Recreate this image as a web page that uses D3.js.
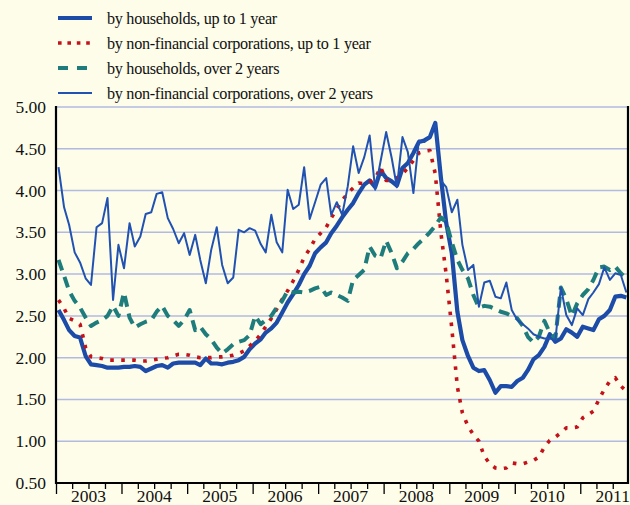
<!DOCTYPE html>
<html>
<head>
<meta charset="utf-8">
<script src="https://cdn.jsdelivr.net/npm/d3@7/dist/d3.min.js"></script>
<style>
  html, body { margin: 0; padding: 0; background: #fdfdea; }
  svg { display: block; }
  text { font-family: "Liberation Serif", "Times New Roman", serif; fill: #111; }
</style>
</head>
<body>
<svg id="chart" width="630" height="505"></svg>
<script>
// Monthly interest rates on new deposits, Jan 2003 – Sep 2011 (%)
const startYear = 2003;
const yearLabels = ["2003", "2004", "2005", "2006", "2007", "2008", "2009", "2010", "2011"];
const yTicks = [0.5, 1.0, 1.5, 2.0, 2.5, 3.0, 3.5, 4.0, 4.5, 5.0];

const householdsShort = [
  2.57, 2.45, 2.33, 2.26, 2.24, 2.02, 1.92, 1.91, 1.90, 1.88, 1.88, 1.88,
  1.89, 1.89, 1.90, 1.89, 1.84, 1.87, 1.90, 1.91, 1.88, 1.93, 1.94, 1.94,
  1.94, 1.94, 1.91, 1.99, 1.93, 1.93, 1.92, 1.94, 1.95, 1.97, 2.01, 2.10,
  2.17, 2.22, 2.30, 2.35, 2.42, 2.54, 2.66, 2.76, 2.87, 3.00, 3.10, 3.25,
  3.32, 3.38, 3.49, 3.58, 3.68, 3.77, 3.85, 3.97, 4.07, 4.12, 4.04, 4.24,
  4.15, 4.11, 4.06, 4.27, 4.33, 4.45, 4.58, 4.60, 4.64, 4.81, 4.16, 3.61,
  3.25, 2.55, 2.21, 2.02, 1.88, 1.84, 1.85, 1.73, 1.58, 1.66, 1.66, 1.65,
  1.72, 1.76, 1.85, 1.98, 2.03, 2.13, 2.28, 2.19, 2.23, 2.34, 2.30, 2.25,
  2.37, 2.35, 2.33, 2.46, 2.50, 2.57, 2.73, 2.74, 2.72
];

const corporationsShort = [
  2.69, 2.59, 2.47, 2.44, 2.40, 2.12, 2.01, 2.00, 1.99, 1.97, 1.97, 1.97,
  1.97, 1.97, 1.97, 1.96, 1.96, 1.97, 1.98, 1.99, 2.00, 2.02, 2.04, 2.04,
  2.03, 2.01, 2.00, 2.00, 2.00, 2.01, 2.01, 2.02, 2.03, 2.05, 2.08, 2.14,
  2.20, 2.28, 2.37, 2.47, 2.58, 2.70, 2.80, 2.92, 3.05, 3.20, 3.30, 3.42,
  3.49, 3.56, 3.67, 3.78, 3.88, 3.97, 4.03, 4.09, 4.08, 4.10, 4.14, 4.28,
  4.12, 4.12, 4.15, 4.20, 4.27, 4.36, 4.45, 4.47, 4.48, 4.20, 3.50, 2.99,
  2.35, 1.65, 1.34, 1.18, 1.08, 1.00, 0.82, 0.73, 0.68, 0.67, 0.68, 0.74,
  0.73, 0.73, 0.75, 0.77, 0.81, 0.93, 1.01, 1.05, 1.10, 1.16, 1.16, 1.17,
  1.28, 1.32, 1.36, 1.50, 1.62, 1.72, 1.76, 1.66, 1.60
];

const householdsLong = [
  3.17, 2.98, 2.80, 2.68, 2.60, 2.48, 2.38, 2.42, 2.45, 2.50, 2.62, 2.50,
  2.78, 2.48, 2.36, 2.40, 2.43, 2.45, 2.55, 2.62, 2.50, 2.45, 2.38, 2.45,
  2.57, 2.33, 2.37, 2.28, 2.22, 2.12, 2.05, 2.10, 2.16, 2.19, 2.21, 2.27,
  2.50, 2.40, 2.45, 2.50, 2.60, 2.68, 2.80, 2.78, 2.79, 2.78, 2.80, 2.83,
  2.85, 2.75, 2.78, 2.75, 2.72, 2.68, 2.93, 2.99, 3.05, 3.33, 3.22, 3.19,
  3.40, 3.25, 3.07, 3.15, 3.25, 3.30, 3.37, 3.43, 3.50, 3.58, 3.68, 3.62,
  3.38, 3.17, 3.05, 2.95, 2.75, 2.60, 2.62, 2.61, 2.58, 2.55, 2.53, 2.50,
  2.47, 2.38, 2.25, 2.18, 2.25, 2.44, 2.30, 2.23, 2.84, 2.70, 2.50, 2.65,
  2.75, 2.82, 2.93, 3.08, 3.09, 3.05, 3.09, 3.01, 2.95
];

const corporationsLong = [
  4.28, 3.80, 3.59, 3.26, 3.14, 2.95, 2.87, 3.56, 3.61, 3.91, 2.69, 3.35,
  3.07, 3.61, 3.33, 3.45, 3.72, 3.74, 3.96, 3.98, 3.67, 3.54, 3.37, 3.49,
  3.23, 3.47, 3.17, 2.89, 3.29, 3.56, 3.11, 2.89, 2.96, 3.53, 3.50, 3.55,
  3.52, 3.36, 3.26, 3.71, 3.38, 3.26, 4.01, 3.78, 3.83, 4.28, 3.66, 3.86,
  4.07, 4.15, 3.71, 3.86, 3.71, 4.05, 4.53, 4.21, 4.40, 4.66, 4.01, 4.35,
  4.70, 4.39, 4.04, 4.64, 4.46, 3.97, 4.60, 4.58, 4.65, 4.81, 4.12, 4.04,
  3.74, 3.89, 3.35, 3.05, 3.11, 2.61, 2.90, 2.92, 2.73, 2.71, 2.90, 2.57,
  2.45, 2.40, 2.35, 2.28, 2.25, 2.23, 2.23, 2.21, 2.84, 2.51, 2.39, 2.59,
  2.51, 2.70, 2.78, 2.88, 3.08, 2.93, 3.01, 2.99, 2.78
];

const seriesNames = [
  "by households, up to 1 year",
  "by non-financial corporations, up to 1 year",
  "by households, over 2 years",
  "by non-financial corporations, over 2 years"
];

const months = householdsShort.map((_, i) => new Date(startYear, i, 15));

const series = [
  { name: seriesNames[0], values: householdsShort, color: "#1c4ba8", width: 4.2, dash: null, legendDash: null },
  { name: seriesNames[1], values: corporationsShort, color: "#c4121a", width: 3.6, dash: "3.6,7.4", legendDash: "3.6,5.8" },
  { name: seriesNames[2], values: householdsLong, color: "#1f7c7c", width: 4, dash: "11,7", legendDash: "10,9" },
  { name: seriesNames[3], values: corporationsLong, color: "#2152b2", width: 2, dash: null, legendDash: null }
];

const svg = d3.select("#chart");
const plotLeft = 56, plotRight = 628, plotTop = 107, plotBottom = 483;

const x = d3.scaleTime()
  .domain([new Date(2003, 0, 1), new Date(2011, 8, 24)])
  .range([plotLeft, plotRight]);
const y = d3.scaleLinear().domain([0.5, 5.0]).range([plotBottom, plotTop]);

// horizontal gridlines
svg.append("g")
  .selectAll("line")
  .data(yTicks.filter(v => v > 0.5))
  .join("line")
  .attr("x1", plotLeft).attr("x2", plotRight - 1)
  .attr("y1", d => y(d)).attr("y2", d => y(d))
  .attr("stroke", "#b2badf")
  .attr("stroke-width", 1.5);

// y axis labels
svg.append("g")
  .selectAll("text")
  .data(yTicks)
  .join("text")
  .attr("x", 46)
  .attr("y", d => y(d))
  .attr("dy", "0.34em")
  .attr("text-anchor", "end")
  .attr("font-size", 17.5)
  .text(d => d3.format(".2f")(d));

// data lines, clipped to the plot area
svg.append("clipPath").attr("id", "plot-clip")
  .append("rect")
  .attr("x", plotLeft).attr("y", plotTop - 20)
  .attr("width", plotRight - plotLeft).attr("height", plotBottom - plotTop + 20);

const line = d3.line()
  .x((d, i) => x(months[i]))
  .y(d => y(d));

const plot = svg.append("g").attr("clip-path", "url(#plot-clip)");
series.forEach(s => {
  plot.append("path")
    .datum(s.values)
    .attr("d", line)
    .attr("fill", "none")
    .attr("stroke", s.color)
    .attr("stroke-width", s.width)
    .attr("stroke-linejoin", "round")
    .attr("stroke-dasharray", s.dash);
});

// axis frame
const frame = svg.append("g").attr("stroke", "#000").attr("fill", "none");
frame.append("line").attr("x1", plotLeft).attr("x2", plotLeft).attr("y1", plotTop - 1).attr("y2", plotBottom + 1).attr("stroke-width", 2.2);
frame.append("line").attr("x1", plotRight).attr("x2", plotRight).attr("y1", plotTop - 1).attr("y2", plotBottom + 1).attr("stroke-width", 2.2);
frame.append("line").attr("x1", plotLeft - 1).attr("x2", plotRight + 1).attr("y1", plotBottom).attr("y2", plotBottom).attr("stroke-width", 2.2);

// bottom axis: year ticks and quarterly minor ticks
const xAxis = d3.axisBottom(x)
  .tickValues(d3.timeMonth.every(3).range(new Date(2003, 0, 1), new Date(2011, 9, 1)))
  .tickSize(5)
  .tickFormat("");
const axisG = svg.append("g").attr("transform", `translate(0,${plotBottom + 1})`).call(xAxis);
axisG.select(".domain").remove();
axisG.selectAll(".tick line")
  .attr("stroke", "#000")
  .attr("stroke-width", 1.3)
  .attr("y2", d => d.getMonth() === 0 ? 10 : 5);

svg.append("g")
  .selectAll("text")
  .data(yearLabels)
  .join("text")
  .attr("x", d => x(new Date(+d, 6, 1)))
  .attr("y", 502)
  .attr("text-anchor", "middle")
  .attr("font-size", 17.5)
  .text(d => d);

// legend
const legend = svg.append("g");
const rows = [18, 43, 68, 93];
series.forEach((s, i) => {
  legend.append("line")
    .attr("x1", 58).attr("x2", 92)
    .attr("y1", rows[i]).attr("y2", rows[i])
    .attr("stroke", s.color)
    .attr("stroke-width", s.width)
    .attr("stroke-dasharray", s.legendDash);
  legend.append("text")
    .attr("x", 107)
    .attr("y", rows[i] + 5.5)
    .attr("font-size", 16.2)
    .attr("letter-spacing", "-0.3px")
    .text(s.name);
});
</script>
</body>
</html>
